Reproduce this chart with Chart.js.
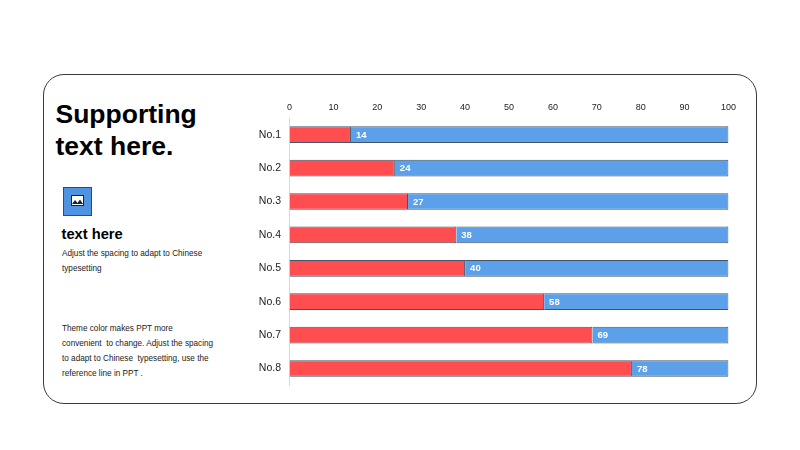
<!DOCTYPE html>
<html lang="en">
<head>
<meta charset="UTF-8">
<title>Supporting text here</title>
<script src="https://cdn.jsdelivr.net/npm/chart.js@4.4.9/dist/chart.umd.min.js"></script>
<style>
    html, body { margin: 0; padding: 0; background: #fff; }
    body { width: 800px; height: 450px; position: relative; overflow: hidden; font-family: "Liberation Sans", Arial, sans-serif; color: #111; }
    .card { position: absolute; left: 43px; top: 74px; width: 712px; height: 328px; border: 1px solid #3a3a3a; border-radius: 21px; }
    .titulo { position: absolute; left: 55.5px; top: 98px; font-size: 26.5px; line-height: 32px; font-weight: bold; color: #000; }
    .icone { position: absolute; left: 63px; top: 187px; width: 27px; height: 27px; background: #4f94e3; border: 1px solid #2f4a6b; }
    .icone svg { position: absolute; left: 7px; top: 7px; }
    .subtitulo { position: absolute; left: 61.5px; top: 226px; font-size: 14.7px; line-height: 17px; font-weight: bold; color: #000; }
    .linha { position: absolute; left: 62px; font-size: 8.2px; line-height: 12px; white-space: pre; color: #222; }
    #grafico { position: absolute; left: 240px; top: 95px; width: 520px; height: 305px; }
</style>
</head>
<body>
    <div class="card"></div>
    <div class="titulo">Supporting<br>text here.</div>
    <div class="icone">
        <svg width="13" height="11" viewBox="0 0 13 11">
            <rect x="0.5" y="0.5" width="12" height="10" fill="#fff" stroke="#12233a"/>
            <path d="M1 9 L4 5 L6.5 8 L9 4.5 L12 9 Z" fill="#12233a"/>
        </svg>
    </div>
    <div class="subtitulo">text here</div>
    <div class="linha" style="top:248px">Adjust the spacing to adapt to Chinese</div>
    <div class="linha" style="top:263px">typesetting</div>
    <div class="linha" style="top:323px">Theme color makes PPT more</div>
    <div class="linha" style="top:338px">convenient  to change. Adjust the spacing</div>
    <div class="linha" style="top:353px">to adapt to Chinese  typesetting, use the</div>
    <div class="linha" style="top:368px">reference line in PPT .</div>
    <div id="grafico"><canvas id="myChartCanvas" width="520" height="305"></canvas></div>

<script>
    const categorias = ['No.1', 'No.2', 'No.3', 'No.4', 'No.5', 'No.6', 'No.7', 'No.8'];
    const valoresVermelho = [14, 24, 27, 38, 40, 58, 69, 78];
    const valoresAzul = [86, 76, 73, 62, 60, 42, 31, 22];
    const ticksX = [0, 10, 20, 30, 40, 50, 60, 70, 80, 90, 100];

    // escreve o valor no inicio da parte azul de cada barra
    const rotulosBarras = {
        id: 'rotulosBarras',
        afterDatasetsDraw(chart) {
            const ctx = chart.ctx;
            const barras = chart.getDatasetMeta(0).data;
            ctx.save();
            ctx.fillStyle = '#ffffff';
            ctx.font = 'bold 9.5px "Liberation Sans"';
            ctx.textAlign = 'left';
            ctx.textBaseline = 'middle';
            barras.forEach(function (barra, i) {
                ctx.fillText(valoresVermelho[i], barra.x + 5, barra.y + 0.5);
            });
            ctx.restore();
        }
    };

    new Chart(document.getElementById('myChartCanvas'), {
        type: 'bar',
        data: {
            labels: categorias,
            datasets: [{
                data: valoresVermelho,
                backgroundColor: '#ff4d50',
                borderColor: '#44546a',
                borderWidth: 1
            }, {
                data: valoresAzul,
                backgroundColor: '#5ba0e9',
                borderColor: '#44546a',
                borderWidth: 1
            }]
        },
        options: {
            indexAxis: 'y',
            responsive: false,
            animation: false,
            devicePixelRatio: 1,
            layout: { padding: { top: 0, right: 31.5, bottom: 0, left: 0 } },
            datasets: { bar: { categoryPercentage: 0.5, barPercentage: 1 } },
            plugins: { legend: { display: false }, tooltip: { enabled: false } },
            scales: {
                x: {
                    position: 'top',
                    stacked: true,
                    min: 0,
                    max: 100,
                    afterFit(escala) { escala.height = 23; },
                    afterBuildTicks(escala) { escala.ticks = ticksX.map(v => ({ value: v })); },
                    grid: { display: false, tickLength: 0 },
                    border: { display: false },
                    ticks: { color: '#222', font: { family: 'Liberation Sans', size: 9 }, maxRotation: 0, padding: 5 }
                },
                y: {
                    stacked: true,
                    afterFit(escala) { escala.width = 49.5; },
                    grid: { display: false, tickLength: 0 },
                    border: { display: true, color: '#d9d9d9', width: 1 },
                    ticks: { color: '#222', font: { family: 'Liberation Sans', size: 10.5 }, padding: 8.5 }
                }
            }
        },
        plugins: [rotulosBarras]
    });
</script>
</body>
</html>
